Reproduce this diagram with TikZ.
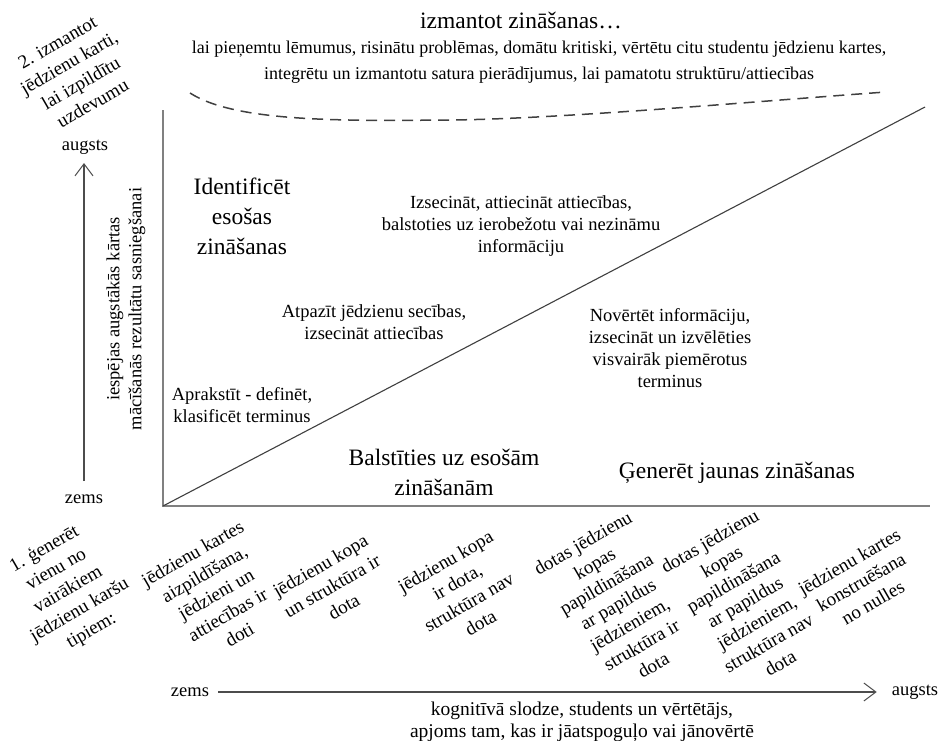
\documentclass[tikz,border=0pt]{standalone}
\usepackage{fontspec}
\setmainfont{Liberation Serif}
\usetikzlibrary{arrows.meta}
\begin{document}
\begin{tikzpicture}[x=1pt,y=-1pt,
  txt/.style={align=center, inner sep=0pt, font=\fontsize{18.5}{22}\selectfont},
  bigtxt/.style={align=center, inner sep=0pt, font=\fontsize{23.5}{30}\selectfont},
  slanted/.style={align=center, inner sep=0pt, rotate=30, font=\fontsize{19}{23.5}\selectfont},
  axisline/.style={draw=black!50, line width=2.4pt},
  diagline/.style={draw=black!75, line width=1.1pt},
  scalearrow/.style={draw=black!70, line width=1.4pt, -{Straight Barb[length=12pt,width=18pt,line width=1pt]}},
  rangecurve/.style={draw=black!75, line width=1.5pt, dash pattern=on 11pt off 7pt}
]
\useasboundingbox[fill=white] (0,0) rectangle (939,740);

% axes of the chart and the dividing diagonal
\coordinate (origin) at (163,506);
\coordinate (ytop) at (163,110);
\coordinate (xend) at (930,506);
\coordinate (diagend) at (925,107);
\draw[axisline] (ytop) -- (origin) -- (xend);
\draw[diagline] (origin) -- (diagend);

% dashed arc under the heading
\coordinate (arcstart) at (190,93);
\coordinate (arcmid) at (450,120);
\coordinate (arcend) at (886,92);
\draw[rangecurve] (arcstart) .. controls (235,122) and (340,121) .. (arcmid)
  .. controls (560,119) and (760,101) .. (arcend);

% heading
\node[bigtxt] (head) at (521,20) {izmantot zināšanas\ldots};
\node[txt, font=\fontsize{18}{26}\selectfont] (headsub) at (539,62)
  {lai pieņemtu lēmumus, risinātu problēmas, domātu kritiski, vērtētu citu studentu jēdzienu kartes,\\
   integrētu un izmantotu satura pierādījumus, lai pamatotu struktūru/attiecības};

% vertical scale
\node[slanted] (task2) at (75,73) {2. izmantot\\jēdzienu karti,\\lai izpildītu\\uzdevumu};
\node[txt] (yhigh) at (85,147) {augsts};
\node[txt] (ylow) at (84,499) {zems};
\coordinate (yarrlow) at (84,481);
\coordinate (yarrhigh) at (84,163);
\draw[scalearrow] (yarrlow) -- (yarrhigh);
\node[txt, rotate=90] (ylabel) at (126,309)
  {iespējas augstākās kārtas\\mācīšanās rezultātu sasniegšanai};

% upper-left field
\node[bigtxt] (identify) at (242,216) {Identificēt\\esošas\\zināšanas};
\node[txt] (infer) at (521,226) {Izsecināt, attiecināt attiecības,\\balstoties uz ierobežotu vai nezināmu\\informāciju};
\node[txt] (recognise) at (374,322) {Atpazīt jēdzienu secības,\\izsecināt attiecības};
\node[txt] (describe) at (242,405) {Aprakstīt - definēt,\\klasificēt terminus};

% lower-right field
\node[txt] (evaluate) at (670,348) {Novērtēt informāciju,\\izsecināt un izvēlēties\\visvairāk piemērotus\\terminus};
\node[bigtxt] (existing) at (444,472) {Balstīties uz esošām\\zināšanām};
\node[bigtxt] (generate) at (737,473) {Ģenerēt jaunas zināšanas};

% map types along the horizontal scale
\node[slanted] (task1) at (68,590) {1. ģenerēt\\vienu no\\vairākiem\\jēdzienu karšu\\tipiem:};
\node[slanted] (typeA) at (216,594) {jēdzienu kartes\\aizpildīšana,\\jēdzieni un\\attiecības ir\\doti};
\node[slanted] (typeB) at (332,586) {jēdzienu kopa\\un struktūra ir\\dota};
\node[slanted] (typeC) at (463,592) {jēdzienu kopa\\ir dota,\\struktūra nav\\dota};
\node[slanted] (typeD) at (618,604) {dotas jēdzienu\\kopas\\papildināšana\\ar papildus\\jēdzieniem,\\struktūra ir\\dota};
\node[slanted] (typeE) at (745,602) {dotas jēdzienu\\kopas\\papildināšana\\ar papildus\\jēdzieniem,\\struktūra nav\\dota};
\node[slanted] (typeF) at (861,582) {jēdzienu kartes\\konstruēšana\\no nulles};

% horizontal scale
\node[txt] (xlow) at (190,692) {zems};
\node[txt] (xhigh) at (915,692) {augsts};
\draw[scalearrow, shorten <=9pt, shorten >=15pt] (xlow.east) -- (xhigh.west);
\node[txt, font=\fontsize{19.5}{21.5}\selectfont] (xlabel) at (582,722) {kognitīvā slodze, students un vērtētājs,\\apjoms tam, kas ir jāatspoguļo vai jānovērtē};
\end{tikzpicture}
\end{document}
